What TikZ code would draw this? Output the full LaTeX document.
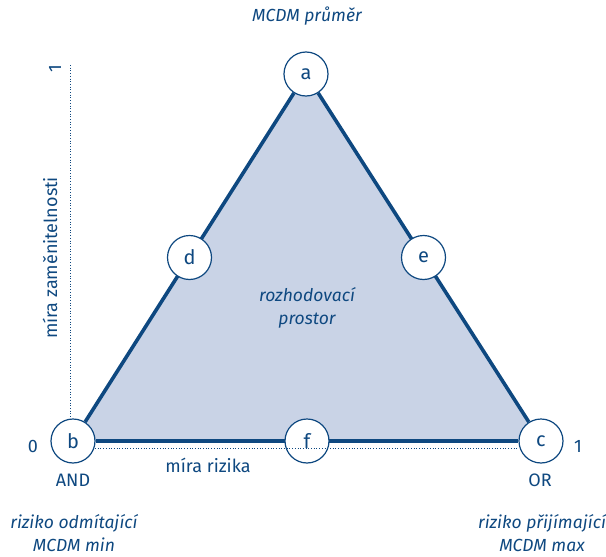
\documentclass[tikz,border=0pt]{standalone}
\usepackage{fontspec}
\setmainfont{Fira Sans}
\usetikzlibrary{backgrounds}
\definecolor{mcdmblue}{RGB}{14,72,128}
\definecolor{mcdmfill}{RGB}{201,211,230}

\begin{document}
\begin{tikzpicture}[x=1pt,y=-1pt,
		vrchol/.style={circle,draw=mcdmblue,fill=white,line width=1.2pt,minimum size=44pt,inner sep=0pt,text=mcdmblue,font=\fontsize{20}{22}\selectfont},
		hrana/.style={draw=mcdmblue,line width=3.6pt},
		osa/.style={draw=mcdmblue,line width=0.7pt,dash pattern=on 0.7pt off 2pt},
		popis/.style={text=mcdmblue,font=\fontsize{18}{21}\selectfont,align=center,inner sep=0pt},
		kurziva/.style={popis,font=\fontsize{17.5}{23}\selectfont\itshape}]
		\useasboundingbox (0,0) rectangle (606,557);
		% vrcholy trojuhelniku
		\node[vrchol] (a) at (306,74) {a};
		\node[vrchol] (b) at (73,441) {b};
		\node[vrchol] (c) at (541,441) {c};
		\node[vrchol] (d) at (189.5,257.5) {d};
		\node[vrchol] (e) at (423.5,257.5) {e};
		\node[vrchol] (f) at (307,441) {f};
		\begin{scope}[on background layer]
		\fill[mcdmfill] (a.center) -- (b.center) -- (c.center) -- cycle;
		\draw[hrana] (a) -- (b);
		\draw[hrana] (a) -- (c);
		\draw[hrana] (b) -- (c);
		\end{scope}
		% osy
		\coordinate (ynahore) at (70,65);
		\coordinate (ydole) at (70,418);
		\coordinate (xvlevo) at (95,448);
		\coordinate (xvpravo) at (518,448);
		\draw[osa] (ynahore) -- (ydole);
		\draw[osa] (xvlevo) -- (xvpravo);
		\node[popis,rotate=90] (jednay) at (55,69) {1};
		\node[popis,rotate=90] (osay) at (50,258) {míra zaměnitelnosti};
		\node[popis] (nula) at (33,446) {0};
		\node[popis] (jednax) at (578,446) {1};
		\node[popis] (osax) at (208,465) {míra rizika};
		\node[popis] (and) at (73,480) {AND};
		\node[popis] (or) at (540,480) {OR};
		% kurzivou
		\node[kurziva] (prumer) at (307,16) {MCDM průměr};
		\node[kurziva] (prostor) at (307,308) {rozhodovací\\prostor};
		\node[kurziva] (odmit) at (74,533) {riziko odmítající\\MCDM min};
		\node[kurziva] (prijim) at (542,533) {riziko přijímající\\MCDM max};
	\end{tikzpicture}
\end{document}
